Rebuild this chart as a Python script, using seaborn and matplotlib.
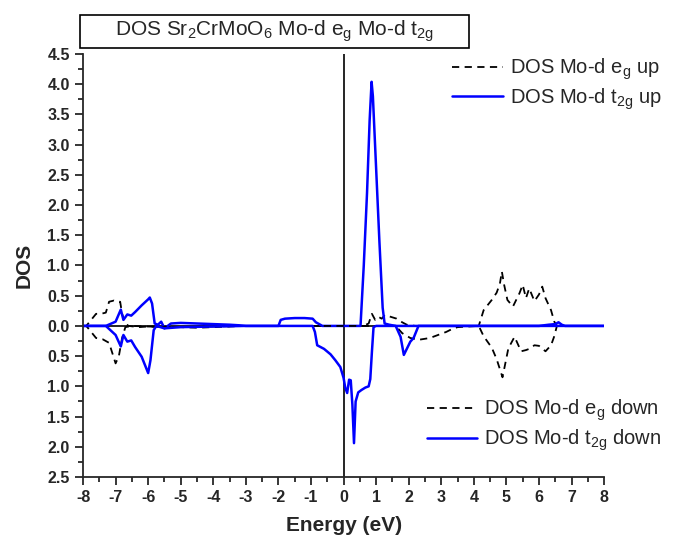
import numpy as np
import pandas as pd
import matplotlib
matplotlib.use("Agg")
import matplotlib.pyplot as plt
import seaborn as sns
from matplotlib.patches import Rectangle
from matplotlib.ticker import MultipleLocator, FuncFormatter

# energies (eV) and DOS values
eg_up_E = [-8, -7.9, -7.6, -7.45, -7.3, -7.2, -7.05, -6.95, -6.86, -6.8, -6.7, -6.6, -6.3, -6.0, -5.5,
           -5.0, -4.5, -4.0, -3.5, -3.0, 0.6, 0.77, 0.87, 0.97, 1.07, 1.17, 1.27, 1.45, 1.63, 1.8, 1.94,
           2.2, 4.15, 4.3, 4.55, 4.7, 4.8, 4.86, 4.93, 5.03, 5.2, 5.4, 5.5, 5.6, 5.7, 5.86, 6.0, 6.1, 6.2,
           6.37, 6.47, 6.55, 8]
eg_up = [0, 0, 0.2, 0.2, 0.22, 0.4, 0.42, 0.4, 0.4, 0.2, 0.04, 0, -0.02, -0.01, -0.02,
         -0.02, -0.03, -0.02, -0.01, 0, 0, 0.04, 0.2, 0.1, 0.15, 0.12, 0.18, 0.15, 0.12, 0.06, 0.02,
         0, 0, 0.26, 0.43, 0.55, 0.7, 0.9, 0.68, 0.43, 0.32, 0.54, 0.68, 0.46, 0.62, 0.41, 0.52, 0.65, 0.46,
         0.26, 0.07, 0, 0]

eg_dn_E = [-8, -7.9, -7.6, -7.4, -7.2, -7.1, -7.0, -6.9, -6.8, -6.7, -6.5, -6.0, -5.0, -4.0, -3.0, 1.6,
           1.8, 2.05, 2.3, 2.65, 2.9, 3.15, 3.3, 3.5, 4.15, 4.3, 4.55, 4.7, 4.88, 5.06, 5.25, 5.45, 5.6,
           5.7, 5.86, 6.0, 6.2, 6.37, 6.47, 6.55, 8]
eg_dn = [0, 0, 0.2, 0.22, 0.28, 0.45, 0.62, 0.5, 0.2, 0.02, 0, 0.01, 0.02, 0.01, 0, 0,
         0.12, 0.2, 0.23, 0.2, 0.15, 0.1, 0.06, 0.02, 0, 0.17, 0.36, 0.55, 0.85, 0.37, 0.18, 0.42, 0.4,
         0.38, 0.32, 0.33, 0.42, 0.32, 0.17, 0, 0]

t2g_up_E = [-8, -7.3, -7.0, -6.84, -6.76, -6.64, -6.52, -6.4, -6.2, -6.0, -5.95, -5.88, -5.8, -5.7,
            -5.6, -5.5, -5.3, -5.0, -4.5, -4.0, -3.5, -3.2, -3.0, -2.0, -1.93, -1.8, -1.5, -1.2, -0.95,
            -0.85, -0.65, 0.52, 0.62, 0.72, 0.8, 0.86, 0.9, 1.0, 1.1, 1.2, 1.26, 1.4, 1.6, 6.0, 6.3, 6.5,
            6.6, 6.7, 6.8, 8]
t2g_up = [0, 0, 0.07, 0.27, 0.1, 0.19, 0.17, 0.23, 0.34, 0.44, 0.47, 0.37, 0.04, 0.02,
          0.07, -0.04, 0.04, 0.05, 0.04, 0.03, 0.02, 0.01, 0, 0, 0.1, 0.12, 0.13, 0.13, 0.12,
          0.06, 0, 0, 1.0, 2.2, 3.4, 4.04, 3.8, 2.6, 1.4, 0.3, 0.04, 0.02, 0, 0, 0.02, 0.03,
          0.06, 0.02, 0, 0]

t2g_dn_E = [-8, -7.3, -7.0, -6.84, -6.76, -6.64, -6.52, -6.4, -6.2, -6.0, -5.93, -5.83, -5.75, -5.5,
            -5.0, -4.0, -3.0, -0.95, -0.88, -0.81, -0.6, -0.4, -0.25, -0.1, 0.0, 0.05, 0.11, 0.17, 0.22,
            0.27, 0.32, 0.37, 0.45, 0.55, 0.67, 0.77, 0.82, 0.87, 0.92, 1.0, 1.6, 1.75, 1.85, 1.95, 2.05,
            2.15, 2.3, 8]
t2g_dn = [0, 0, 0.15, 0.34, 0.15, 0.26, 0.24, 0.35, 0.51, 0.78, 0.57, 0.07, 0, 0.04,
          0.02, 0.01, 0, 0, 0.1, 0.32, 0.38, 0.47, 0.57, 0.68, 0.86, 1.02, 1.11, 0.89, 0.9,
          1.3, 1.94, 1.25, 1.1, 1.06, 1.02, 1.0, 0.88, 0.43, 0.02, 0, 0, 0.18, 0.48, 0.37, 0.26,
          0.2, 0, 0]

sns.set_style("ticks")
plt.rcParams['font.family'] = ['Liberation Sans', 'DejaVu Sans']
plt.rcParams['mathtext.default'] = 'regular'

fig = plt.figure(figsize=(6.75, 5.4), dpi=100)
ax = fig.add_axes([0.123, 0.1167, 0.772, 0.7833])

ax.axhline(0, color="black", lw=1.2, zorder=1)
ax.axvline(0, color="black", lw=1.2, zorder=1)

dash = (4, 3)
sns.lineplot(x=eg_up_E, y=eg_up, ax=ax, color="black", lw=1.3)
ax.lines[-1].set_dashes(dash)
h_eg_up = ax.lines[-1]
sns.lineplot(x=t2g_up_E, y=t2g_up, ax=ax, color="#0000ff", lw=1.8)
h_t2g_up = ax.lines[-1]
sns.lineplot(x=eg_dn_E, y=-np.array(eg_dn), ax=ax, color="black", lw=1.3)
ax.lines[-1].set_dashes(dash)
h_eg_dn = ax.lines[-1]
sns.lineplot(x=t2g_dn_E, y=-np.array(t2g_dn), ax=ax, color="#0000ff", lw=1.8)
h_t2g_dn = ax.lines[-1]

ax.set_xlim(-8, 8)
ax.set_ylim(-2.5, 4.5)
ax.xaxis.set_major_locator(MultipleLocator(1))
ax.xaxis.set_minor_locator(MultipleLocator(0.5))
ax.yaxis.set_major_locator(MultipleLocator(0.5))
ax.yaxis.set_minor_locator(MultipleLocator(0.25))
ax.yaxis.set_major_formatter(FuncFormatter(lambda v, p: f"{abs(v):.1f}"))
ax.xaxis.set_major_formatter(FuncFormatter(lambda v, p: f"{int(v)}"))
ax.tick_params(which="major", direction="out", length=6, width=1.3, labelsize=11.5)
ax.tick_params(which="minor", direction="out", length=3.5, width=1.3)
for lab in ax.get_xticklabels() + ax.get_yticklabels():
    lab.set_fontweight("bold")
sns.despine(ax=ax)
for s in ["left", "bottom"]:
    ax.spines[s].set_linewidth(1.3)

ax.set_xlabel("Energy (eV)", fontsize=15, fontweight="bold", labelpad=8)
ax.set_ylabel("DOS", fontsize=15, fontweight="bold", labelpad=10)

leg_kw = dict(loc="upper right", bbox_transform=fig.transFigure, frameon=False, fontsize=14.5,
              handlelength=2.5, handletextpad=0.35, labelspacing=0.2, borderpad=0, borderaxespad=0)
leg1 = ax.legend([h_eg_up, h_t2g_up], ["DOS Mo-d e$_g$ up", "DOS Mo-d t$_{2g}$ up"],
                 bbox_to_anchor=(0.98, 0.895), **leg_kw)
ax.add_artist(leg1)
ax.legend([h_eg_dn, h_t2g_dn], ["DOS Mo-d e$_g$ down", "DOS Mo-d t$_{2g}$ down"],
          bbox_to_anchor=(0.98, 0.263), **leg_kw)

fig.patches.append(Rectangle((0.1185, 0.911), 0.577, 0.061, transform=fig.transFigure,
                             fill=False, ec="black", lw=1.2))
fig.text(0.407, 0.943, "DOS Sr$_2$CrMoO$_6$ Mo-d e$_g$ Mo-d t$_{2g}$", ha="center", va="center",
         fontsize=15)

fig.savefig("out.png", dpi=100)
